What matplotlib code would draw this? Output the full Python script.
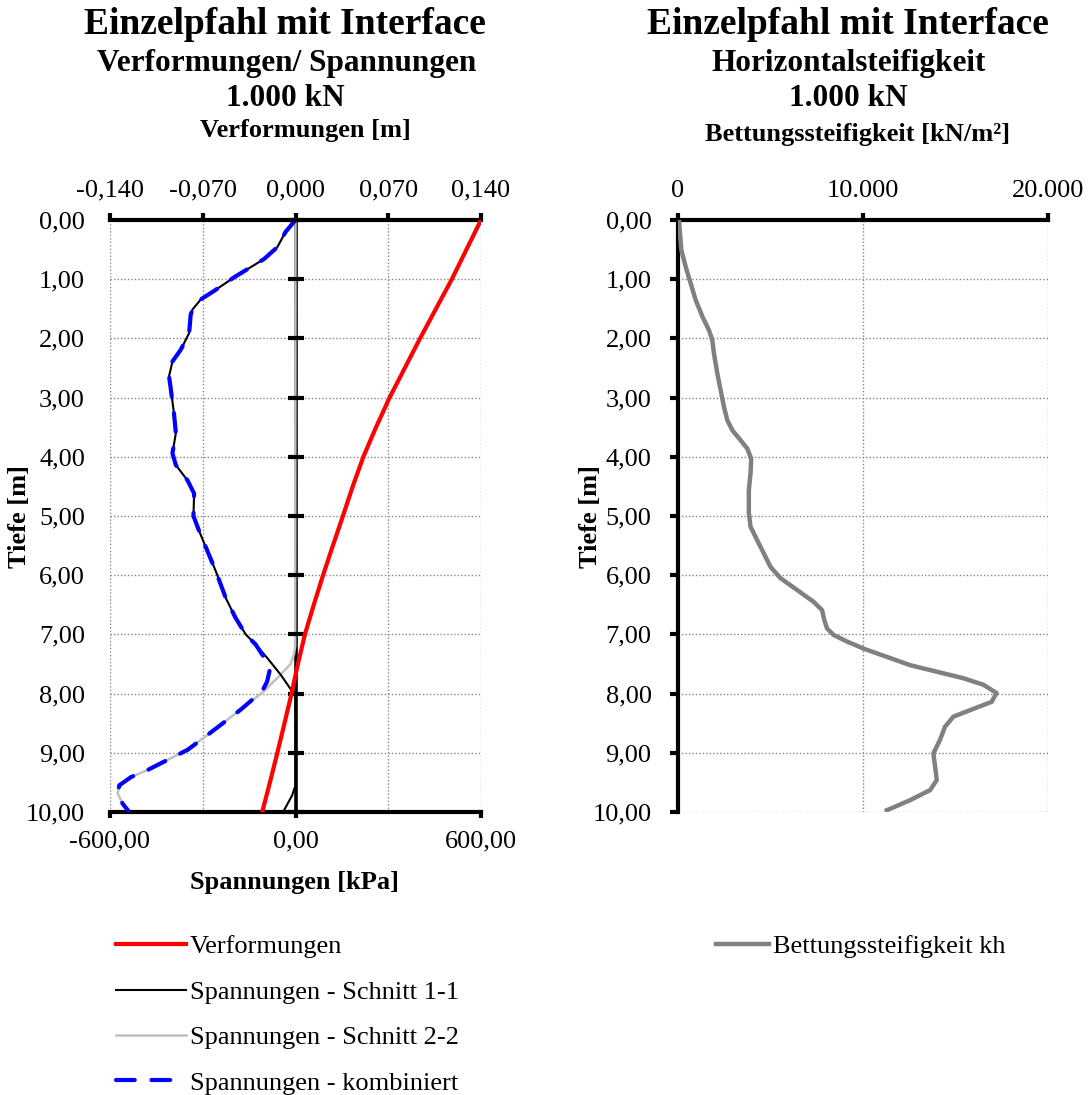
import matplotlib
matplotlib.use("Agg")
import matplotlib.pyplot as plt
from matplotlib.ticker import FuncFormatter

plt.rcParams['font.family'] = 'Liberation Serif'
plt.rcParams['axes.unicode_minus'] = False

# Verformungen [m] über die Tiefe
depth_verf = [0, 0.5, 1, 1.5, 2, 2.5, 3, 3.5, 4, 4.5, 5, 5.5, 6, 6.5, 7, 7.5, 8, 8.5, 9, 9.5, 10]
verformung = [0.140, 0.129, 0.118, 0.106, 0.094, 0.0825, 0.071, 0.0608, 0.0512, 0.0432, 0.0358,
              0.0282, 0.0208, 0.0138, 0.0071, 0.0018, -0.0030, -0.0083, -0.0137, -0.0193, -0.0251]

# Spannungen Schnitt 1-1 [kPa]
depth_s11 = [0, 0.2, 0.46, 0.66, 0.97, 1.2, 1.34, 1.51, 1.6, 1.91, 2.19, 2.39, 2.64, 2.87, 3.27, 3.6,
             3.94, 4.14, 4.4, 4.62, 5.0, 5.25, 5.59, 5.93, 6.38, 6.72, 7.0, 7.17, 7.4, 7.68, 7.96, 8.02,
             9.55, 9.72, 10.0]
span_s11 = [0, -32, -59, -102, -199, -264, -306, -333, -339, -344, -371, -398, -409, -403, -393, -387,
            -398, -387, -349, -328, -330, -312, -285, -258, -226, -194, -161, -129, -91, -48, -11, 0,
            0, -11, -40]

# Spannungen Schnitt 2-2 [kPa]
depth_s22 = [0, 7.2, 7.34, 7.5, 7.68, 7.96, 8.27, 8.7, 8.95, 9.12, 9.29, 9.41, 9.55, 9.69, 9.86, 10.0]
span_s22 = [0, -1, -5, -16, -48, -102, -177, -285, -349, -414, -478, -532, -570, -575, -559, -538]

# Spannungen kombiniert [kPa]
depth_komb = [0, 0.2, 0.46, 0.66, 0.97, 1.2, 1.34, 1.51, 1.6, 1.91, 2.19, 2.39, 2.64, 2.87, 3.27, 3.6,
              3.94, 4.14, 4.4, 4.62, 5.0, 5.25, 5.59, 5.93, 6.38, 6.72, 7.0, 7.17, 7.4, 7.62, 7.8, 7.96,
              8.27, 8.7, 8.95, 9.12, 9.29, 9.41, 9.55, 9.69, 9.86, 10.0]
span_komb = [0, -32, -59, -102, -199, -264, -306, -333, -339, -344, -371, -398, -409, -403, -393, -387,
             -398, -387, -349, -328, -330, -312, -285, -258, -226, -194, -161, -129, -100, -84, -92, -108,
             -177, -285, -349, -414, -478, -532, -570, -575, -559, -538]

# Bettungssteifigkeit kh [kN/m²]
depth_kh = [0, 0.23, 0.51, 0.79, 1.07, 1.35, 1.63, 1.86, 2.03, 2.25, 2.59, 2.87, 3.15, 3.38, 3.55,
            3.72, 3.86, 4.03, 4.28, 4.56, 4.95, 5.18, 5.41, 5.63, 5.86, 6.05, 6.25, 6.45, 6.59, 6.76,
            6.9, 7.01, 7.12, 7.24, 7.38, 7.52, 7.63, 7.74, 7.85, 7.99, 8.14, 8.28, 8.39, 8.56, 8.78,
            9.01, 9.23, 9.46, 9.63, 9.8, 9.97]
kh = [54, 108, 183, 415, 685, 954, 1316, 1672, 1855, 1941, 2125, 2302, 2480, 2664, 2933,
      3381, 3742, 3958, 3920, 3829, 3829, 3920, 4281, 4637, 4999, 5538, 6438, 7333, 7788, 7910,
      8057, 8412, 9135, 10030, 11290, 12548, 13987, 15420, 16500, 17222, 16952, 15783, 14882, 14434, 14164,
      13804, 13896, 13987, 13627, 12548, 11290]

depth_ticks = [0, 1, 2, 3, 4, 5, 6, 7, 8, 9, 10]
verf_ticks = [-0.14, -0.07, 0.0, 0.07, 0.14]
span_ticks = [-600, 0, 600]
kh_ticks = [0, 10000, 20000]

W, H = 1091, 1095
fig = plt.figure(figsize=(W / 100, H / 100), dpi=100)


def fx(px):
    return px / W


def fy(py):
    return 1 - py / H


def comma(fmt):
    return FuncFormatter(lambda v, p: fmt.format(v).replace('.', ','))


grid_kw = dict(color='#888888', linestyle=(0, (1, 1.5)), linewidth=1.0)
label_fs = 19

# ---------------- linkes Diagramm: Verformungen / Spannungen ----------------
ax = fig.add_axes([fx(110), fy(812), fx(481 - 110), (812 - 220) / H])
ax.set_xlim(-600, 600)
ax.set_ylim(10, 0)
ax.set_yticks(depth_ticks)
ax.yaxis.set_major_formatter(comma('{:.2f}'))
ax.set_xticks(span_ticks)
ax.set_xticks([-300, 300], minor=True)
ax.xaxis.set_major_formatter(comma('{:.2f}'))
ax.grid(True, which='both', **grid_kw)
ax.set_axisbelow(True)
for s in ['left', 'right', 'top']:
    ax.spines[s].set_visible(False)
ax.spines['bottom'].set_linewidth(3)
ax.tick_params(axis='y', length=0, pad=18, labelsize=label_fs)
ax.tick_params(axis='x', which='major', direction='out', length=4, width=3, pad=9, labelsize=label_fs)
ax.tick_params(axis='x', which='minor', length=0)

# Achse bei 0 kPa
ax.axvline(0, color='black', lw=2.6, zorder=1.5)
mid = ax.secondary_yaxis(0.5)
mid.set_zorder(10)
mid.set_yticks(depth_ticks)
mid.tick_params(direction='inout', length=11, width=3, labelleft=False, labelright=False)
for s in mid.spines.values():
    s.set_visible(False)

l_s22, = ax.plot(span_s22, depth_s22, color='#c0c0c0', lw=1.8, zorder=3)
l_s11, = ax.plot(span_s11, depth_s11, color='black', lw=1.5, zorder=4)
l_komb, = ax.plot(span_komb, depth_komb, color='#0000ff', lw=3, dashes=(4.5, 4),
                  dash_capstyle='round', zorder=5)

# obere Achse: Verformungen [m]
top = ax.twiny()
top.set_xlim(-0.14, 0.14)
top.set_xticks(verf_ticks)
top.xaxis.set_major_formatter(comma('{:.3f}'))
for s in ['left', 'right', 'bottom']:
    top.spines[s].set_visible(False)
top.spines['top'].set_linewidth(3)
top.tick_params(axis='x', direction='out', length=5, width=3, pad=8, labelsize=label_fs)
l_verf, = top.plot(verformung, depth_verf, color='#ff0000', lw=3, solid_joinstyle='round', zorder=6)

# ---------------- rechtes Diagramm: Bettungssteifigkeit ----------------
ax2 = fig.add_axes([fx(678), fy(812), fx(1048 - 678), (812 - 220) / H])
ax2.set_xlim(0, 20000)
ax2.set_ylim(10, 0)
ax2.set_yticks(depth_ticks)
ax2.yaxis.set_major_formatter(comma('{:.2f}'))
ax2.set_xticks(kh_ticks)
ax2.xaxis.set_major_formatter(FuncFormatter(lambda v, p: '{:,.0f}'.format(v).replace(',', '.')))
ax2.xaxis.tick_top()
ax2.grid(True, **grid_kw)
ax2.set_axisbelow(True)
for s in ['right', 'bottom']:
    ax2.spines[s].set_visible(False)
ax2.spines['top'].set_linewidth(3)
ax2.spines['left'].set_linewidth(3)
ax2.tick_params(axis='x', direction='out', length=5, width=3, pad=8, labelsize=label_fs)
ax2.tick_params(axis='y', direction='out', length=6, width=3, pad=13, labelsize=label_fs)
l_kh, = ax2.plot(kh, depth_kh, color='#808080', lw=3.2, solid_joinstyle='round', zorder=4)

# ---------------- Beschriftungen ----------------
bold = dict(fontweight='bold', ha='center', va='center')
fig.text(fx(285), fy(24), 'Einzelpfahl mit Interface', fontsize=27, **bold)
fig.text(fx(287), fy(64), 'Verformungen/ Spannungen', fontsize=22.5, **bold)
fig.text(fx(285), fy(99), '1.000 kN', fontsize=22.5, **bold)
fig.text(fx(305), fy(131), 'Verformungen [m]', fontsize=19, **bold)
fig.text(fx(294), fy(882), 'Spannungen [kPa]', fontsize=19, **bold)
fig.text(fx(20), fy(516), 'Tiefe [m]', fontsize=19, rotation=90, **bold)

fig.text(fx(848), fy(24), 'Einzelpfahl mit Interface', fontsize=27, **bold)
fig.text(fx(849), fy(64), 'Horizontalsteifigkeit', fontsize=22.5, **bold)
fig.text(fx(848), fy(99), '1.000 kN', fontsize=22.5, **bold)
fig.text(fx(858), fy(134), 'Bettungssteifigkeit [kN/m²]', fontsize=19, **bold)
fig.text(fx(590), fy(516), 'Tiefe [m]', fontsize=19, rotation=90, **bold)

# ---------------- Legenden ----------------
fig.legend(handles=[l_verf, l_s11, l_s22, l_komb],
           labels=['Verformungen', 'Spannungen - Schnitt 1-1', 'Spannungen - Schnitt 2-2',
                   'Spannungen - kombiniert'],
           loc='upper left', bbox_to_anchor=(fx(116), fy(935)), frameon=False, fontsize=19,
           handlelength=2.65, handletextpad=0.15, labelspacing=0.83, borderpad=0, borderaxespad=0)
fig.legend(handles=[l_kh], labels=['Bettungssteifigkeit kh'],
           loc='upper left', bbox_to_anchor=(fx(716), fy(935)), frameon=False, fontsize=19,
           handlelength=2.0, handletextpad=0.15, borderpad=0, borderaxespad=0)

fig.savefig('out.png', dpi=100)
